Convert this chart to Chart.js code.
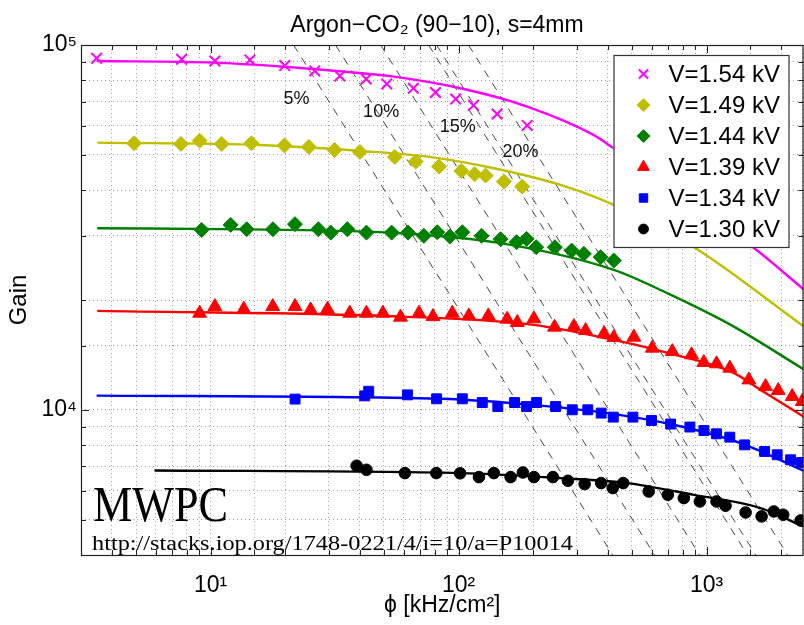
<!DOCTYPE html>
<html><head><meta charset="utf-8">
<script src="https://cdn.jsdelivr.net/npm/chart.js@4.4.1/dist/chart.umd.min.js"></script>
<style>html,body{margin:0;padding:0;background:#fff;overflow:hidden;} #outer{width:804px;height:625px;overflow:hidden;position:relative;} #wrap{width:813px;height:625px;position:relative;}</style>
</head><body><div id="outer"><div id="wrap"><canvas id="c" width="813" height="625"></canvas></div></div>
<script>
// ---------- data ----------
const seriesLabels = ['V=1.54 kV','V=1.49 kV','V=1.44 kV','V=1.39 kV','V=1.34 kV','V=1.30 kV'];

const phi154  = [3.47,7.64,10.4,14.4,19.9,26.3,33.2,42.4,51.3,65.7,80.7,97.3,114.8,143,189];
const gain154 = [92000,91400,90400,91000,87800,84900,82250,80700,78200,76100,74100,71100,68350,64700,60200];
const fitPhi154  = [3.47,10.3,19.7,31.3,54.7,101.9,189,350,422,1549,2483];
const fitGain154 = [90400,89450,87200,85000,81900,76100,67800,56700,52100,27800,21300];

const phi149  = [4.91,7.59,9.03,11.08,14.6,19.85,24.9,31.6,40.0,55.3,67.1,83.3,102.6,116,128.5,152.3,180.7];
const gain149 = [53800,53570,54680,53570,53800,53050,52550,51570,50900,49340,47900,46420,45160,44240,43850,42220,40910];
const fitPhi149  = [3.49,15.9,40.3,74.8,138.7,257.6,422.7,886.5,2483];
const fitGain149 = [54000,53210,51240,49430,45940,41340,36440,27960,16880];

const phi144  = [9.2,12.04,13.97,17.83,21.87,27.2,30.5,35.6,42.5,53.7,62.5,72.4,82.0,92.2,103.5,123.8,147.6,171.3,188,205.6,244.5,285.6,320,373.8,422.7];
const gain144 = [31130,32130,31260,31260,32280,31260,30600,31260,30600,30600,30600,29980,30680,29850,30680,29980,29360,28810,29410,27910,27910,27320,26760,26200,25660];
const fitPhi144  = [3.49,14.5,58.3,147.6,422.7,694,1288,2483];
const fitGain144 = [31470,31230,30490,28630,24190,20880,16910,12870];

const phi139  = [9.03,10.4,13.6,17.8,21.9,25.3,29.6,36.4,42.5,49.5,58.3,69.2,78.8,94.3,110,131.8,157,172.5,201.2,243.8,291.7,325.2,385.5,422.7,509,604,727.5,870,975,1097,1241,1481,1729,1945,2216,2432];
const gain139 = [18400,19190,18870,19190,19190,18790,18870,18400,18400,18400,17950,18400,18010,18400,18090,18090,17720,17350,17760,16850,16910,16490,16150,15780,15820,14760,14440,14150,13480,13370,13010,12080,11580,11290,10880,10540];
const fitPhi139  = [3.49,58.3,200.4,421.7,696.6,1285,1652,2483];
const fitGain139 = [18670,18010,17100,15550,14330,12630,11340,9550];

const phi134  = [21.9,41.8,43.4,62.2,81.5,103.5,124.6,143.9,168.2,188,206.3,246,287.4,332,375.8,420.6,504.7,600,716,856.5,975.5,1097,1241,1423,1714,1927,2182,2410];
const gain134 = [10700,10920,11240,10990,10720,10720,10470,10210,10470,10210,10470,10210,10000,10000,9795,9550,9550,9350,9140,8970,8776,8595,8415,8017,7689,7530,7295,7171];
const fitPhi134  = [3.47,84.5,214,397.9,736,1371,2483];
const fitGain134 = [10940,10720,10270,9795,9100,8106,6790];

const phi130  = [38.8,42.5,60.7,81.3,101.4,120.8,138.7,162.1,181.6,201.2,240,275.9,322.3,375.8,418.3,461.3,584.5,698,809.6,939.6,1097,1193,1437,1667,1868,2037,2395];
const gain130 = [7026,6848,6708,6708,6699,6541,6708,6541,6733,6541,6541,6391,6258,6298,6103,6298,5973,5850,5729,5609,5609,5458,5232,5103,5265,5158,4975];
const fitPhi130  = [5.94,101.9,257.6,478.6,889,1652,2466];
const fitGain130 = [6820,6708,6500,6298,5848,5379,4786];

// dashed guide lines: phi where each crosses gain 1e5 and gain 4e3
const guideTopPhi    = [21.6,31.9,48.5,75.7,81.5,109.6];
const guideBottomPhi = [418,617,937,1462,1578,2123];
const guideTopGain = 100000, guideBottomGain = 4000;

const pctLabels = ['5%','10%','15%','20%'];
const pctPhi    = [22.2,48.7,99.3,177.8];
const pctGain   = [71100,65600,59700,51000];

// ---------- styling ----------
const FONT  = '"Liberation Sans", Arial, Helvetica, sans-serif';
const SERIF = '"Liberation Serif", "Times New Roman", serif';
const SUP = {1:'\u00B9',2:'\u00B2',3:'\u00B3',4:'\u2074',5:'\u2075'};

const styles = [
  {color:'#ff00ff', point:'crossRot', r:7.5, bw:2},
  {color:'#bfbf00', point:'rectRot',  r:7.5, bw:1},
  {color:'#008000', point:'rectRot',  r:7.5, bw:1},
  {color:'#ff0000', point:'triangle', r:8,   bw:1},
  {color:'#0000ff', point:'rect',     r:7,   bw:1},
  {color:'#000000', point:'circle',   r:5.8, bw:1}
];
const markerX = [phi154,phi149,phi144,phi139,phi134,phi130];
const markerY = [gain154,gain149,gain144,gain139,gain134,gain130];
const fitX = [fitPhi154,fitPhi149,fitPhi144,fitPhi139,fitPhi134,fitPhi130];
const fitY = [fitGain154,fitGain149,fitGain144,fitGain139,fitGain134,fitGain130];

function pts(xs, ys){ return xs.map((x,i)=>({x:x, y:ys[i]})); }

const datasets = [];
for (let i=0;i<6;i++){
  const s = styles[i];
  datasets.push({label:seriesLabels[i], data:pts(markerX[i],markerY[i]), showLine:false,
    pointStyle:s.point, pointRadius:s.r, pointBorderWidth:s.bw,
    pointBackgroundColor:s.color, pointBorderColor:s.color, order:0});
  datasets.push({label:seriesLabels[i]+' fit', data:pts(fitX[i],fitY[i]), showLine:true,
    borderColor:s.color, borderWidth:2.4, pointRadius:0, cubicInterpolationMode:'monotone', order:1});
}
for (let j=0;j<guideTopPhi.length;j++){
  datasets.push({label:'guide'+j, data:[{x:guideTopPhi[j],y:guideTopGain},{x:guideBottomPhi[j],y:guideBottomGain}],
    showLine:true, borderColor:'rgba(40,40,40,0.85)', borderWidth:1, borderDash:[8,7], pointRadius:0, order:2});
}

function isDecade(v){ const e=Math.log10(v); return Math.abs(e-Math.round(e))<1e-9; }
function decadeLabel(v){ return isDecade(v) ? '10'+SUP[Math.round(Math.log10(v))] : ''; }
const ZERO_PAD = () => ({left:0, right:0, top:0, bottom:0});

function drawMarker(ctx, style, x, y, r, color, bw){
  ctx.save();
  ctx.fillStyle=color; ctx.strokeStyle=color; ctx.lineWidth=bw;
  ctx.beginPath();
  if (style==='crossRot'){
    const d=r*Math.SQRT1_2;
    ctx.moveTo(x-d,y-d); ctx.lineTo(x+d,y+d); ctx.moveTo(x+d,y-d); ctx.lineTo(x-d,y+d); ctx.stroke();
  } else if (style==='rectRot'){
    ctx.moveTo(x,y-r); ctx.lineTo(x+r,y); ctx.lineTo(x,y+r); ctx.lineTo(x-r,y); ctx.closePath(); ctx.fill(); ctx.stroke();
  } else if (style==='triangle'){
    let a=0; ctx.moveTo(x+Math.sin(a)*r, y-Math.cos(a)*r);
    a+=2*Math.PI/3; ctx.lineTo(x+Math.sin(a)*r, y-Math.cos(a)*r);
    a+=2*Math.PI/3; ctx.lineTo(x+Math.sin(a)*r, y-Math.cos(a)*r);
    ctx.closePath(); ctx.fill(); ctx.stroke();
  } else if (style==='rect'){
    const h=r*Math.SQRT1_2; ctx.rect(x-h,y-h,2*h,2*h); ctx.fill(); ctx.stroke();
  } else {
    ctx.arc(x,y,r,0,Math.PI*2); ctx.fill(); ctx.stroke();
  }
  ctx.restore();
}

const decor = {
  id:'decor',
  afterDatasetsDraw(chart){
    const ctx=chart.ctx, ca=chart.chartArea, xs=chart.scales.x, ys=chart.scales.y;
    ctx.save();
    ctx.fillStyle='#111'; ctx.font='18px '+FONT; ctx.textAlign='center'; ctx.textBaseline='middle';
    for (let i=0;i<pctLabels.length;i++){
      ctx.fillText(pctLabels[i], xs.getPixelForValue(pctPhi[i]), ys.getPixelForValue(pctGain[i]));
    }
    ctx.strokeStyle='#222'; ctx.lineWidth=1.2;
    ctx.strokeRect(ca.left+0.5, ca.top+0.5, ca.right-ca.left-1, ca.bottom-ca.top);
    ctx.lineWidth=1;
    xs.ticks.forEach(t=>{
      if (t.value<=xs.min || t.value>=xs.max) return;
      const p=Math.round(xs.getPixelForValue(t.value))+0.5, L=isDecade(t.value)?8:5;
      ctx.beginPath(); ctx.moveTo(p,ca.bottom); ctx.lineTo(p,ca.bottom-L);
      ctx.moveTo(p,ca.top); ctx.lineTo(p,ca.top+L); ctx.stroke();
    });
    ys.ticks.forEach(t=>{
      if (t.value<=ys.min || t.value>=ys.max) return;
      const p=Math.round(ys.getPixelForValue(t.value))+0.5, L=isDecade(t.value)?8:5;
      ctx.beginPath(); ctx.moveTo(ca.left,p); ctx.lineTo(ca.left+L,p);
      ctx.moveTo(ca.right,p); ctx.lineTo(ca.right-L,p); ctx.stroke();
    });
    ctx.fillStyle='#000'; ctx.textAlign='left'; ctx.textBaseline='alphabetic';
    ctx.font='50px '+SERIF;
    let w=ctx.measureText('MWPC').width;
    ctx.save(); ctx.translate(ca.left+12, ca.bottom-34); ctx.scale(135/w,1); ctx.fillText('MWPC',0,0); ctx.restore();
    const url='http://stacks.iop.org/1748-0221/4/i=10/a=P10014';
    ctx.font='20px '+SERIF;
    w=ctx.measureText(url).width;
    ctx.save(); ctx.translate(ca.left+11, ca.bottom-5); ctx.scale(481/w,1); ctx.fillText(url,0,0); ctx.restore();
    const lx=ca.right-190, ly=ca.top+10, lw=175, lh=192;
    ctx.fillStyle='#fff'; ctx.fillRect(lx,ly,lw,lh);
    ctx.strokeStyle='#333'; ctx.lineWidth=1.2; ctx.strokeRect(lx+0.5,ly+0.5,lw,lh);
    ctx.font='24px '+FONT; ctx.textBaseline='middle'; ctx.textAlign='left';
    for (let i=0;i<6;i++){
      const yy=ly+19+i*31;
      const s=styles[i];
      drawMarker(ctx, s.point, lx+30, yy, s.r*0.85, s.color, s.bw);
      ctx.fillStyle='#000'; ctx.fillText(seriesLabels[i], lx+55, yy+1);
    }
    ctx.font='23px '+FONT; ctx.textAlign='center'; ctx.textBaseline='alphabetic'; ctx.fillStyle='#000';
    ctx.fillText('Argon\u2212CO\u2082 (90\u221210), s=4mm', 437, 32);
    ctx.restore();
  }
};

const chart = new Chart(document.getElementById('c'), {
  type:'scatter',
  data:{datasets:datasets},
  options:{
    responsive:false, maintainAspectRatio:false, animation:false, devicePixelRatio:1,
    layout:{padding:{top:45,right:1,left:0,bottom:0}},
    plugins:{legend:{display:false}, tooltip:{enabled:false}, title:{display:false}},
    scales:{
      x:{type:'logarithmic', min:3, max:2460,
        afterFit(s){ s.height=70; s.paddingLeft=0; s.paddingRight=0; s.getPadding=ZERO_PAD; },
        grid:{color:'rgba(0,0,0,0.38)', lineWidth:1, drawTicks:true, tickLength:17, tickColor:'rgba(0,0,0,0)'},
        border:{display:false, dash:[1,3]},
        ticks:{autoSkip:false, maxRotation:0, minRotation:0, padding:0, color:'#000',
          font:{family:FONT,size:23}, callback:(v)=>decadeLabel(v)},
        title:{display:true, text:'\u03D5 [kHz/cm\u00B2]', color:'#000', font:{family:FONT,size:23}, padding:{top:0,bottom:6}}
      },
      y:{type:'logarithmic', min:4000, max:100000,
        afterFit(s){ s.width=81; s.paddingTop=0; s.paddingBottom=0; s.getPadding=ZERO_PAD; },
        grid:{color:'rgba(0,0,0,0.38)', lineWidth:1, drawTicks:false},
        border:{display:false, dash:[1,3]},
        ticks:{autoSkip:false, padding:4, color:'#000',
          font:{family:FONT,size:23}, callback:(v)=>decadeLabel(v)},
        title:{display:true, text:'Gain', color:'#000', font:{family:FONT,size:24}, padding:{top:5,bottom:0}}
      }
    }
  },
  plugins:[decor]
});
</script></body></html>
